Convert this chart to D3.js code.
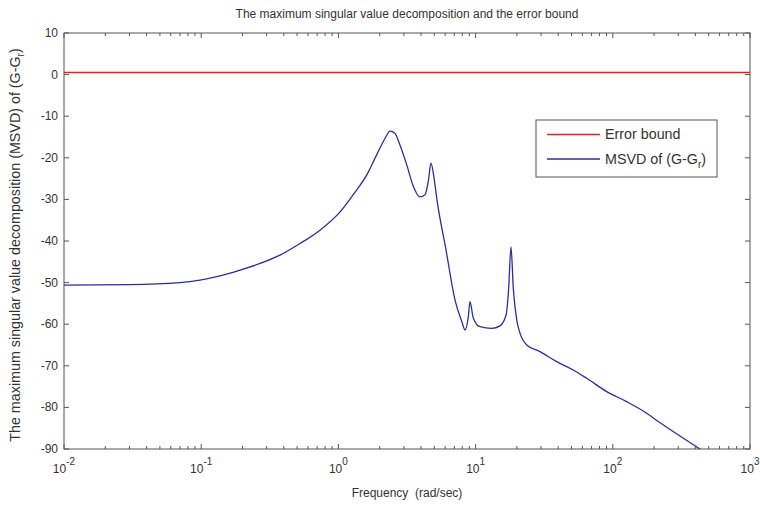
<!DOCTYPE html>
<html>
<head>
<meta charset="utf-8">
<script src="https://cdn.jsdelivr.net/npm/d3@7"></script>
<style>
    body { margin: 0; background: #fff; }
    svg { display: block; font-family: "Liberation Sans", Arial, sans-serif; }
    .lbl { fill: #333; font-size: 12px; }
    .big { fill: #333; font-size: 14.3px; }
</style>
</head>
<body>
<div class="graph_container"></div>
<script>
// data
const freq = [0.01, 0.03, 0.07, 0.098, 0.137, 0.192, 0.269, 0.375, 0.525, 0.734, 1.028, 1.285, 1.61, 1.90, 2.19, 2.38, 2.58, 2.81, 3.15, 3.52, 3.93, 4.28, 4.52, 4.73, 4.98, 5.23, 6.09, 7.08, 7.96, 8.37, 8.85, 9.10, 9.62, 10.76, 13.1, 15.06, 16.67, 17.42, 18.11, 18.83, 19.95, 21.1, 23.6, 29.5, 39.0, 51.5, 64.5, 90.3, 126, 176.6, 214.8, 432, 600];
const msvd = [-50.6, -50.5, -50.0, -49.4, -48.4, -47.0, -45.4, -43.4, -40.6, -37.4, -33.0, -28.8, -24.1, -19.3, -15.3, -13.6, -14.1, -16.9, -21.7, -26.9, -29.4, -28.9, -25.7, -21.3, -24.9, -30.1, -42.2, -54.2, -59.5, -61.4, -58.2, -54.6, -58.5, -60.6, -61.0, -60.4, -57.8, -51.4, -41.4, -51.4, -59.0, -62.2, -65.0, -66.6, -69.0, -71.0, -73.0, -76.2, -78.6, -81.4, -83.4, -90, -93];
const errorBound = 0.7;
const yTicks = [10, 0, -10, -20, -30, -40, -50, -60, -70, -80, -90];
const xExponents = [-2, -1, 0, 1, 2, 3];
const legendLabels = ["Error bound", "MSVD of (G-G"];

//^ DIMENSIONS //
const width = 760, height = 505;
const mLeft = 64, mRight = 750, mTop = 33, mBottom = 449;

const svg = d3.select(".graph_container").append("svg")
    .attr("width", width).attr("height", height);

const x = d3.scaleLog().domain([1e-2, 1e3]).range([mLeft, mRight]);
const y = d3.scaleLinear().domain([-90, 10]).range([mBottom, mTop]);

const axisColor = "#555";
const red = "#f01c1c";
const blue = "#2c2ca6";

//^ CLIP //
svg.append("clipPath").attr("id", "clip").append("rect")
    .attr("x", mLeft).attr("y", mTop).attr("width", mRight - mLeft).attr("height", mBottom - mTop);

//^ TICKS (inside, all four sides) //
const g = svg.append("g");
const minor = [];
for (let e = -2; e < 3; e++) for (let k = 2; k < 10; k++) minor.push(k * Math.pow(10, e));
minor.forEach(v => {
    g.append("line").attr("x1", x(v)).attr("x2", x(v)).attr("y1", mBottom).attr("y2", mBottom - 3).attr("stroke", axisColor);
    g.append("line").attr("x1", x(v)).attr("x2", x(v)).attr("y1", mTop).attr("y2", mTop + 3).attr("stroke", axisColor);
});
xExponents.forEach(e => {
    const v = Math.pow(10, e);
    g.append("line").attr("x1", x(v)).attr("x2", x(v)).attr("y1", mBottom).attr("y2", mBottom - 5).attr("stroke", axisColor);
    g.append("line").attr("x1", x(v)).attr("x2", x(v)).attr("y1", mTop).attr("y2", mTop + 5).attr("stroke", axisColor);
    const t = svg.append("text").attr("class", "lbl").attr("x", x(v)).attr("y", 473).attr("text-anchor", "middle");
    t.append("tspan").text("10");
    t.append("tspan").attr("dy", -8).style("font-size", "10px").text(e);
});
yTicks.forEach(v => {
    g.append("line").attr("x1", mLeft).attr("x2", mLeft + 5).attr("y1", y(v)).attr("y2", y(v)).attr("stroke", axisColor);
    g.append("line").attr("x1", mRight).attr("x2", mRight - 5).attr("y1", y(v)).attr("y2", y(v)).attr("stroke", axisColor);
    svg.append("text").attr("class", "lbl").attr("x", 58).attr("y", y(v) + 4)
        .attr("text-anchor", "end").text(v);
});

//^ BOX //
svg.append("rect").attr("x", mLeft).attr("y", mTop).attr("width", mRight - mLeft).attr("height", mBottom - mTop)
    .attr("fill", "none").attr("stroke", axisColor);

//^ LINES //
const plot = svg.append("g").attr("clip-path", "url(#clip)");
plot.append("line")
    .attr("x1", x(1e-2)).attr("x2", x(1e3))
    .attr("y1", Math.round(y(errorBound)) + 0.5).attr("y2", Math.round(y(errorBound)) + 0.5)
    .attr("stroke", red).attr("stroke-width", 1.5);

const pts = freq.map((f, i) => [f, msvd[i]]);
const line = d3.line().x(d => x(d[0])).y(d => y(d[1])).curve(d3.curveMonotoneX);
plot.append("path").datum(pts).attr("d", line)
    .attr("fill", "none").attr("stroke", blue).attr("stroke-width", 1.3);

//^ TITLE AND AXIS LABELS //
svg.append("text").attr("class", "lbl").attr("x", (mLeft + mRight) / 2).attr("y", 18)
    .attr("text-anchor", "middle").text("The maximum singular value decomposition and the error bound");
svg.append("text").attr("class", "lbl").attr("x", (mLeft + mRight) / 2).attr("y", 497)
    .attr("text-anchor", "middle").style("white-space", "pre").text("Frequency  (rad/sec)");
const yl = svg.append("text").attr("class", "big")
    .attr("transform", "translate(20,245) rotate(-90)")
    .attr("text-anchor", "middle");
yl.append("tspan").text("The maximum singular value decomposition (MSVD) of (G-G");
yl.append("tspan").attr("dy", 4).style("font-size", "10px").text("r");
yl.append("tspan").attr("dy", -4).text(")");

//^ LEGEND //
const lg = svg.append("g");
lg.append("rect").attr("x", 536).attr("y", 120).attr("width", 181).attr("height", 57)
    .attr("fill", "#fff").attr("stroke", axisColor);
lg.append("line").attr("x1", 547).attr("x2", 600).attr("y1", 134.5).attr("y2", 134.5)
    .attr("stroke", red).attr("stroke-width", 1.5);
lg.append("line").attr("x1", 547).attr("x2", 600).attr("y1", 159).attr("y2", 159)
    .attr("stroke", blue).attr("stroke-width", 1.3);
lg.append("text").attr("class", "big").attr("x", 605).attr("y", 139).text(legendLabels[0]);
const l2 = lg.append("text").attr("class", "big").attr("x", 605).attr("y", 164);
l2.append("tspan").text(legendLabels[1]);
l2.append("tspan").attr("dy", 4).style("font-size", "10px").text("r");
l2.append("tspan").attr("dy", -4).text(")");
</script>
</body>
</html>
